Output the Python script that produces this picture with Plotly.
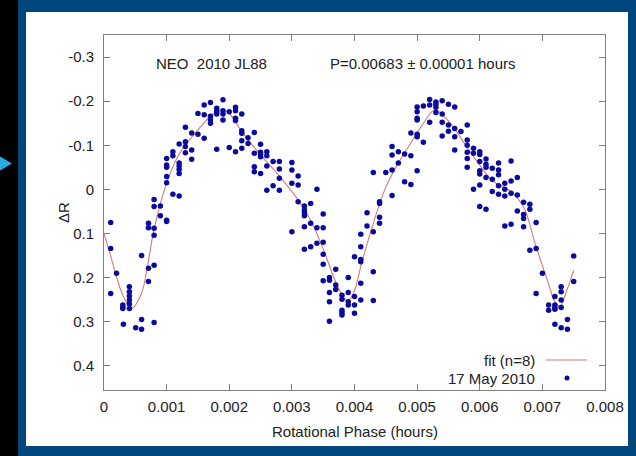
import plotly.graph_objects as go

# ---------------- data ----------------
obs_phase = (
    [0.000107] * 3 + [0.0002] + [0.0003] * 3 + [0.00031] + [0.000405] * 6 + [0.000506]
    + [0.0006] * 3 + [0.00071] * 4 + [0.0008] * 6 + [0.0009] * 2 + [0.001] * 7
    + [0.0011] * 3 + [0.0012] * 6 + [0.0013] * 4 + [0.0014] * 3 + [0.0015] * 2
    + [0.0016] * 3 + [0.0017] * 4 + [0.0018] * 4 + [0.0019] * 4 + [0.002] * 2
    + [0.0021] * 5 + [0.0022] * 5 + [0.0023] * 2 + [0.0024] * 4 + [0.0025] * 5
    + [0.0026] * 4 + [0.0027] * 2 + [0.0028] * 4 + [0.003] * 4 + [0.0031] * 3
    + [0.0032] * 6 + [0.0033] * 3 + [0.0034] * 3 + [0.0035] * 6 + [0.0036] * 5
    + [0.0037] * 3 + [0.0038] * 5 + [0.0039] * 4 + [0.004] * 4 + [0.0041] * 6
    + [0.0042] * 2 + [0.0043] * 4 + [0.0044] * 4 + [0.0045] + [0.0046] * 4
    + [0.0047] * 2 + [0.0048] * 2 + [0.0049] * 3 + [0.005] * 7 + [0.0051] * 2
    + [0.0052] * 3 + [0.0053] * 4 + [0.0054] * 4 + [0.0055] * 3 + [0.0056] * 4
    + [0.0057] + [0.0058] * 6 + [0.0059] * 3 + [0.006] * 7 + [0.0061] * 5
    + [0.0062] * 3 + [0.0063] * 5 + [0.0064] * 4 + [0.0065] * 4 + [0.0066] * 3
    + [0.0067] * 4 + [0.0068] * 3 + [0.0069] * 3 + [0.007] + [0.0071] * 2
    + [0.0072] * 5 + [0.0073] * 5 + [0.0074] * 2 + [0.0075] * 2
)
obs_dr = [
    0.075, 0.134, 0.236, 0.19, 0.262, 0.266, 0.270, 0.306,
    0.221, 0.232, 0.242, 0.251, 0.26, 0.27, 0.314,
    0.295, 0.317, 0.15, 0.179, 0.209, 0.077, 0.087,
    0.172, 0.088, 0.104, 0.023, 0.039, 0.302, 0.038, 0.06,
    0.07, 0.073, -0.015, -0.029, -0.05, -0.055, -0.07,
    -0.085, -0.076, 0.011, -0.06, -0.053, -0.045, -0.036, 0.015, -0.103,
    -0.108, -0.097, -0.083, -0.141, -0.128, -0.089, -0.068, -0.125, -0.172,
    -0.191, -0.169, -0.116, -0.197, -0.166, -0.157, -0.15,
    -0.184, -0.176, -0.171, -0.091, -0.203, -0.178, -0.171, -0.157, -0.176, -0.095,
    -0.186, -0.178, -0.161, -0.156, -0.085, -0.171, -0.133, -0.127, -0.11, -0.093,
    -0.117, -0.104, -0.129, -0.082, -0.051, -0.04, -0.102, -0.084, -0.079, -0.074, -0.036,
    -0.085, -0.076, -0.053, 0.002, -0.063, -0.008, -0.063, -0.046, -0.025, 0.002,
    -0.061, -0.044, -0.014, 0.096, -0.03, -0.01, 0.028,
    0.038, 0.047, 0.053, 0.06, 0.085, 0.136, 0.032, 0.077, 0.13, 0.0, 0.087, 0.122,
    0.056, 0.087, 0.12, 0.147, 0.17, 0.207, 0.2, 0.206, 0.234, 0.255, 0.299,
    0.181, 0.217, 0.227, 0.24, 0.249, 0.274, 0.28, 0.285, 0.2, 0.234, 0.255, 0.262,
    0.153, 0.243, 0.262, 0.281, 0.102, 0.13, 0.159, 0.164, 0.213, 0.251,
    0.053, 0.083, 0.096, 0.187, 0.252, -0.038, 0.028, 0.032, 0.063, 0.077, -0.038,
    -0.097, -0.078, -0.044, 0.014, -0.085, -0.06, -0.08, -0.017, -0.128, -0.076, -0.011,
    -0.187, -0.176, -0.161, -0.157, -0.125, -0.119, -0.042, -0.189, -0.107,
    -0.204, -0.191, -0.152, -0.198, -0.193, -0.186, -0.174,
    -0.201, -0.171, -0.152, -0.121, -0.193, -0.146, -0.132,
    -0.187, -0.138, -0.119, -0.089, -0.131,
    -0.146, -0.112, -0.1, -0.084, -0.07, -0.05, -0.093, -0.082, 0.0,
    -0.085, -0.079, -0.063, -0.042, -0.035, -0.01, 0.039,
    -0.069, -0.057, -0.05, -0.027, 0.045, -0.048, -0.023, 0.005,
    -0.06, -0.044, -0.033, -0.008, 0.011, -0.014, 0.0, 0.015, 0.083,
    -0.064, -0.019, 0.009, 0.079, -0.027, 0.013, 0.049,
    0.029, 0.057, 0.066, 0.085, 0.034, 0.045, 0.138, 0.075, 0.134, 0.236, 0.19,
    0.262, 0.274, 0.243, 0.262, 0.268, 0.272, 0.306,
    0.221, 0.232, 0.251, 0.268, 0.314, 0.295, 0.317, 0.151, 0.209,
]

fit_phase = [0, 0.0001, 0.0002, 0.0003, 0.00044, 0.0006, 0.0007, 0.0008, 0.001,
             0.0012, 0.0015, 0.00175, 0.00188, 0.002, 0.0022, 0.0025, 0.0028,
             0.0031, 0.0033, 0.0035, 0.0037, 0.00385, 0.0039, 0.004, 0.0041,
             0.0043, 0.0045, 0.0047, 0.0049, 0.0051, 0.00525, 0.0053, 0.0055,
             0.0058, 0.006, 0.0062, 0.0065, 0.0067, 0.0069, 0.0071, 0.0072,
             0.00728, 0.0074, 0.0075]
fit_dr = [0.10, 0.148, 0.198, 0.24, 0.27, 0.235, 0.17, 0.09, -0.014,
          -0.08, -0.135, -0.172, -0.18, -0.172, -0.131, -0.078, -0.03,
          0.024, 0.07, 0.135, 0.21, 0.25, 0.252, 0.23, 0.175,
          0.077, -0.005, -0.06, -0.105, -0.15, -0.178, -0.18, -0.155,
          -0.095, -0.055, -0.02, 0.005, 0.04, 0.13, 0.215, 0.255,
          0.265, 0.225, 0.183]

x_ticks = [0, 0.001, 0.002, 0.003, 0.004, 0.005, 0.006, 0.007, 0.008]
x_tick_labels = ["0", "0.001", "0.002", "0.003", "0.004", "0.005", "0.006", "0.007", "0.008"]
y_ticks = [-0.3, -0.2, -0.1, 0, 0.1, 0.2, 0.3, 0.4]
y_tick_labels = ["-0.3", "-0.2", "-0.1", "0", "0.1", "0.2", "0.3", "0.4"]

title_left = "NEO\u00a0 2010 JL88"
title_right = "P=0.00683 \u00b1 0.00001 hours"
x_title = "Rotational Phase (hours)"
y_title = "\u0394R"
fit_name = "fit (n=8)"
obs_name = "17 May 2010"

# ---------------- layout helpers (pixel -> paper) ----------------
W, H = 636, 456
ML, MR, MT, MB = 104, 31, 35, 66
PW = W - ML - MR
PH = H - MT - MB


def px(x):
    return (x - ML) / PW


def py(y):
    return (H - MB - y) / PH


NAVY = "#00467f"
FIT_C = "#d47a7a"
DOT_C = "#0a0a9e"
AX_C = "#7f7f7f"
TXT_C = "#222222"
FONT = "Liberation Sans, Arial, sans-serif"

fig = go.Figure()
fig.add_trace(go.Scatter(x=fit_phase, y=fit_dr, mode="lines",
                         line=dict(color=FIT_C, width=1.1, shape="spline", smoothing=1.0),
                         name=fit_name, showlegend=False, hoverinfo="skip"))
fig.add_trace(go.Scatter(x=obs_phase, y=obs_dr, mode="markers",
                         marker=dict(color=DOT_C, size=5.5, line=dict(width=0)),
                         name=obs_name, showlegend=False))

axis_common = dict(showgrid=False, zeroline=False, showline=True, linecolor=AX_C,
                   linewidth=1, mirror="ticks", ticks="inside", ticklen=6,
                   tickcolor=AX_C, tickwidth=1,
                   tickfont=dict(family=FONT, size=15, color=TXT_C))

fig.update_xaxes(range=[0, 0.008], tickvals=x_ticks, ticktext=x_tick_labels,
                 ticklabelstandoff=3, **axis_common)
fig.update_yaxes(range=[0.455, -0.35], tickvals=y_ticks, ticktext=y_tick_labels,
                 ticklabelstandoff=6, **axis_common)

shapes = [
    dict(type="rect", xref="paper", yref="paper", x0=px(26), x1=px(628),
         y0=py(446), y1=py(12), fillcolor="white", line=dict(width=0), layer="below"),
    dict(type="rect", xref="paper", yref="paper", x0=px(-2), x1=px(18),
         y0=py(458), y1=py(-2), fillcolor="black", line=dict(width=0), layer="below"),
    dict(type="path", xref="paper", yref="paper",
         path=f"M {px(0)} {py(156.5)} L {px(12)} {py(163.5)} L {px(0)} {py(170.5)} Z",
         fillcolor="#2aaae6", line=dict(width=0)),
    # legend samples
    dict(type="line", xref="paper", yref="paper", x0=px(546), x1=px(587),
         y0=py(360), y1=py(360), line=dict(color=FIT_C, width=1.1)),
    dict(type="circle", xref="paper", yref="paper", x0=px(564.5), x1=px(569.5),
         y0=py(380.5), y1=py(375.5), fillcolor=DOT_C, line=dict(width=0)),
]

ann_font = dict(family=FONT, size=15, color=TXT_C)
annotations = [
    dict(text=title_left, x=px(154), y=py(63), xref="paper", yref="paper",
         xanchor="left", yanchor="middle", showarrow=False, font=ann_font),
    dict(text=title_right, x=px(328), y=py(63), xref="paper", yref="paper",
         xanchor="left", yanchor="middle", showarrow=False, font=ann_font),
    dict(text=fit_name, x=px(537), y=py(360), xref="paper", yref="paper",
         xanchor="right", yanchor="middle", showarrow=False, font=ann_font),
    dict(text=obs_name, x=px(537), y=py(378), xref="paper", yref="paper",
         xanchor="right", yanchor="middle", showarrow=False, font=ann_font),
    dict(text=x_title, x=px(355), y=py(431), xref="paper", yref="paper",
         xanchor="center", yanchor="middle", showarrow=False, font=ann_font),
    dict(text=y_title, x=px(63), y=py(213), xref="paper", yref="paper",
         xanchor="center", yanchor="middle", showarrow=False, textangle=-90,
         font=ann_font),
]

fig.update_layout(width=W, height=H, margin=dict(l=ML, r=MR, t=MT, b=MB),
                  paper_bgcolor=NAVY, plot_bgcolor="white", showlegend=False,
                  shapes=shapes, annotations=annotations,
                  font=dict(family=FONT, size=15, color=TXT_C))

fig.write_html("out.html", config={"displayModeBar": False},
               post_script="document.body.style.margin='0';"
                           "document.body.style.overflow='hidden';")
